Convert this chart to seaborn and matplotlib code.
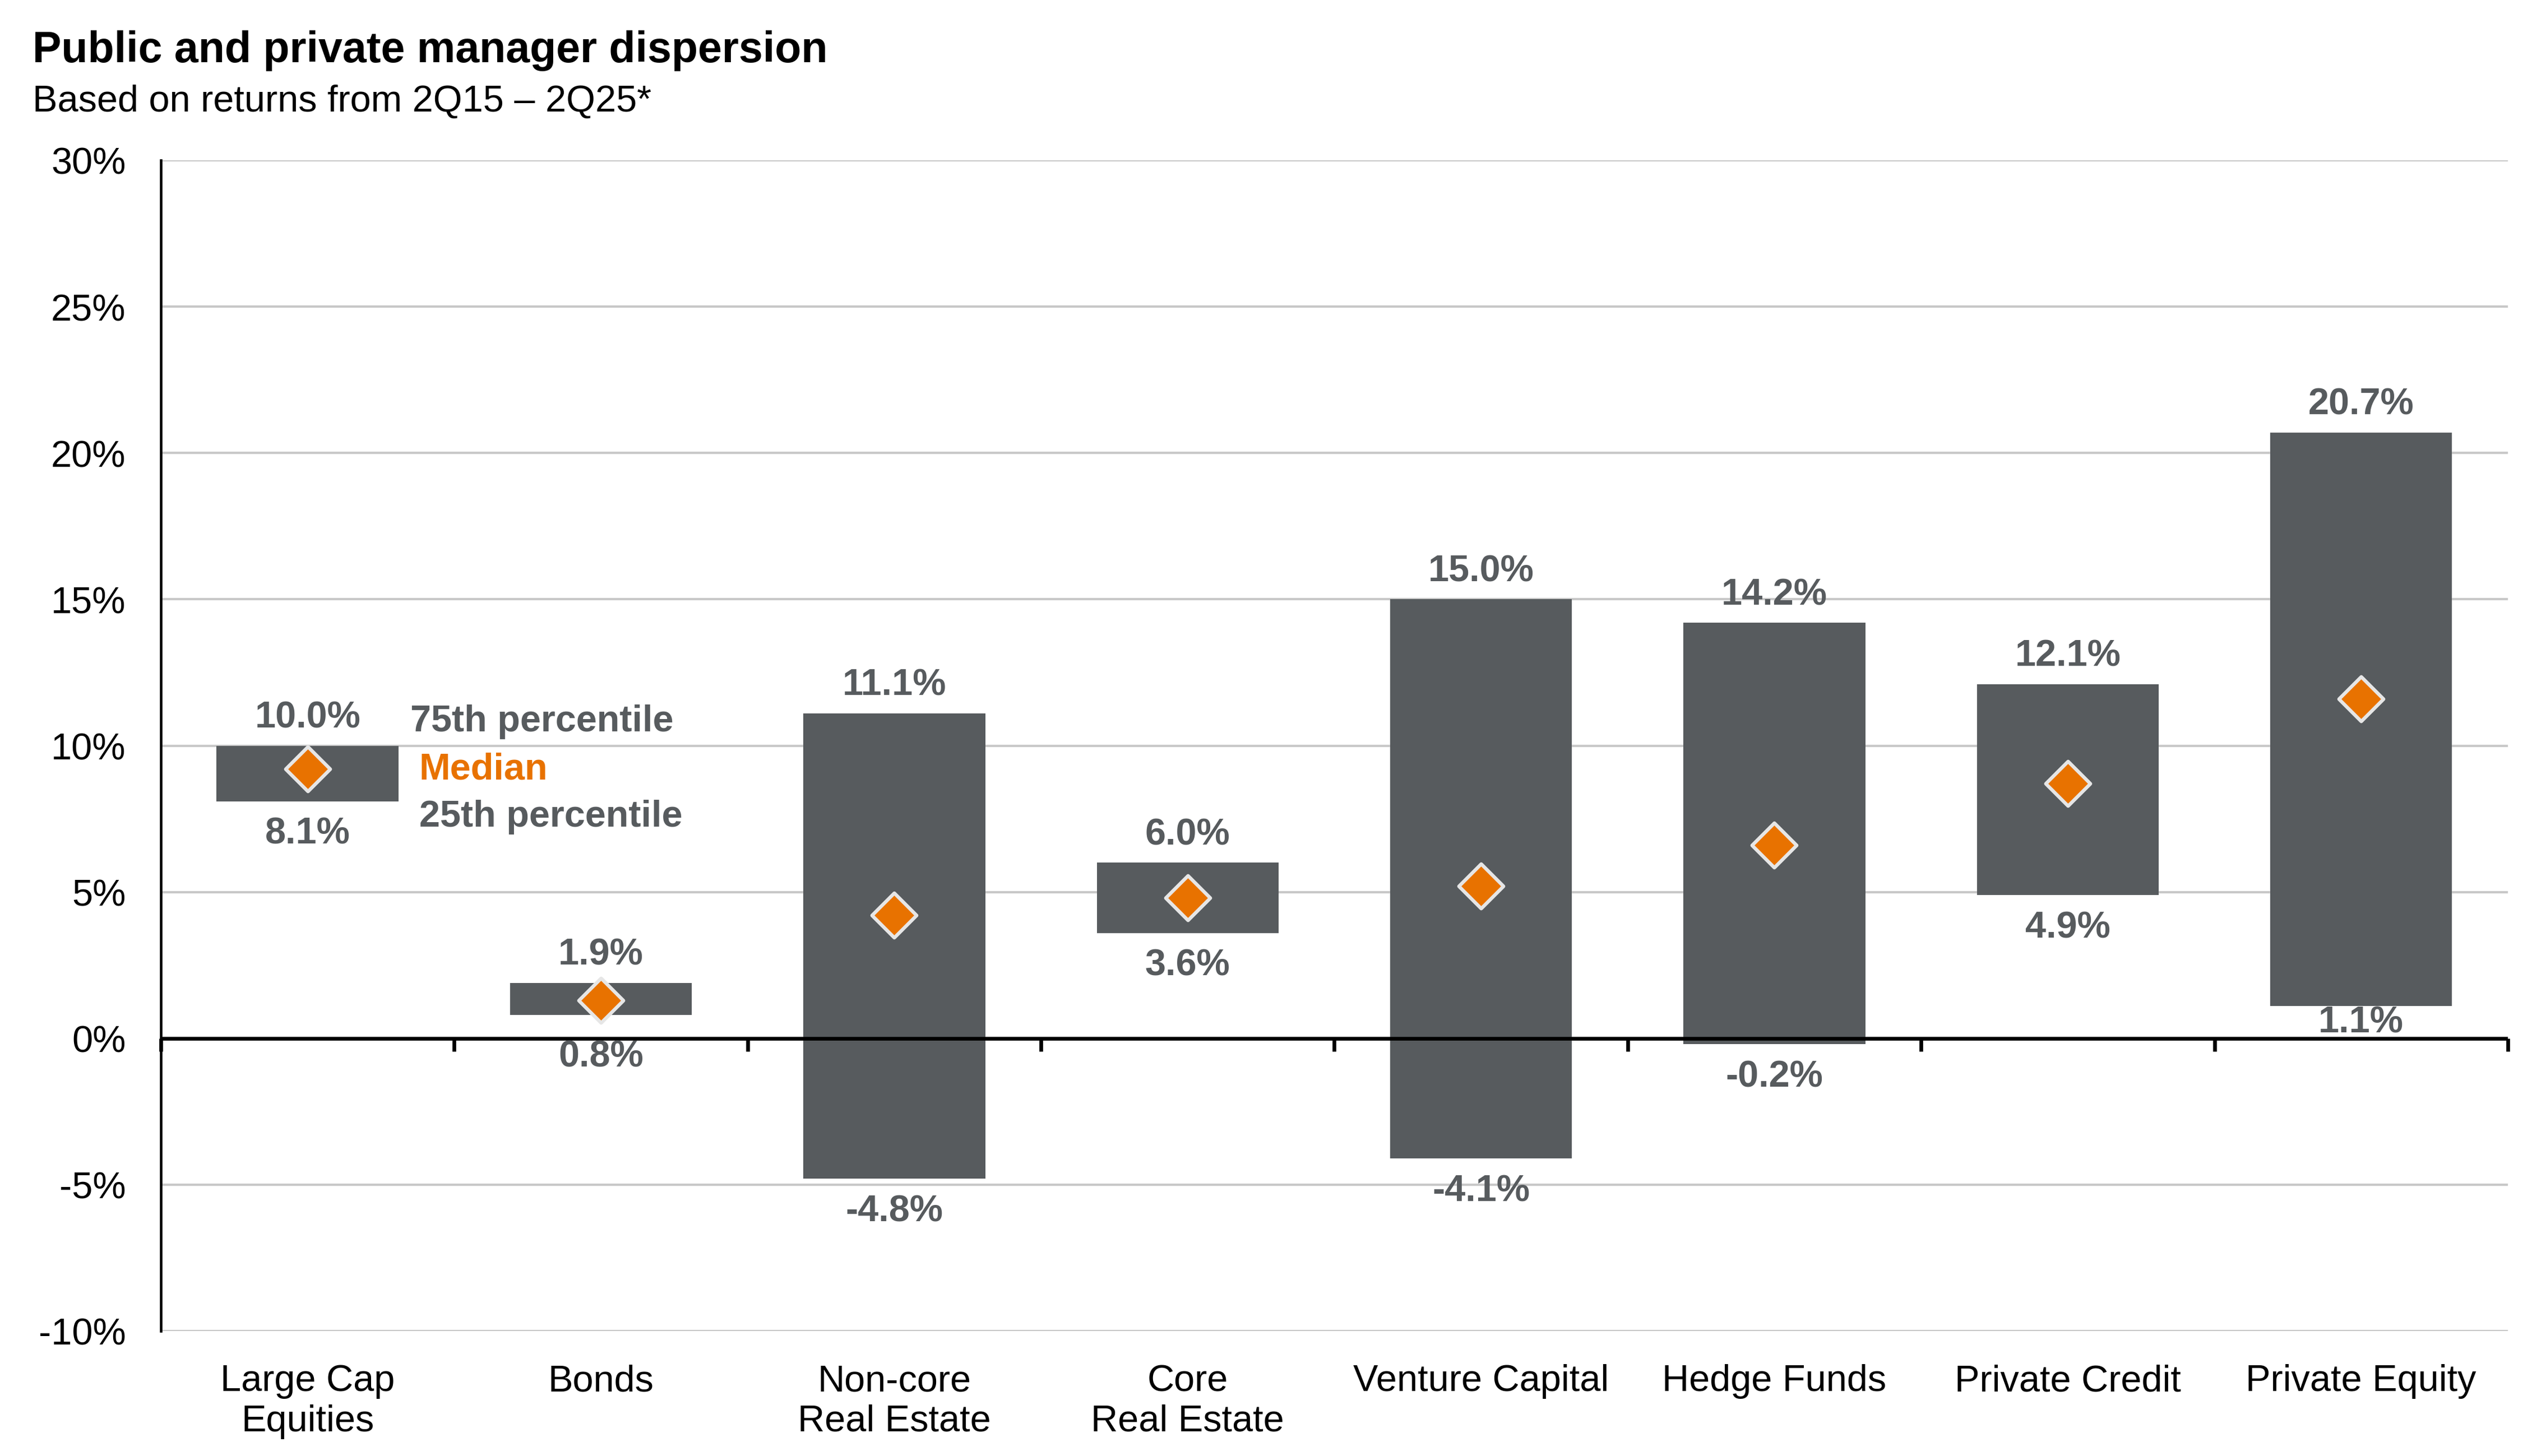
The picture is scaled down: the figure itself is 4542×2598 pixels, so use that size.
import numpy as np
import pandas as pd
import matplotlib
matplotlib.use("Agg")
import matplotlib.pyplot as plt
import seaborn as sns

# data (percent)
categories = ["Large Cap\nEquities", "Bonds", "Non-core\nReal Estate", "Core\nReal Estate",
              "Venture Capital", "Hedge Funds", "Private Credit", "Private Equity"]
p75 = [10.0, 1.9, 11.1, 6.0, 15.0, 14.2, 12.1, 20.7]
p25 = [8.1, 0.8, -4.8, 3.6, -4.1, -0.2, 4.9, 1.1]
median = [9.2, 1.3, 4.2, 4.8, 5.2, 6.6, 8.7, 11.6]
y_ticks = [-10, -5, 0, 5, 10, 15, 20, 25, 30]

BAR = "#575b5e"
ORANGE = "#e87200"
LABEL = "#575b5e"
GRID = "#c8c8c8"

sns.set_theme(style="white")
plt.rcParams["font.family"] = ["Liberation Sans", "DejaVu Sans"]

df = pd.DataFrame({"cat": categories, "p75": p75, "p25": p25, "median": median})
df["spread"] = df["p75"] - df["p25"]

fig = plt.figure(figsize=(15.14, 8.663), dpi=300)
ax = fig.add_axes([0.0632, 0.0858, 0.9218, 0.8038])

# floating bars: 25th to 75th percentile
sns.barplot(data=df, x="cat", y="spread", order=categories, bottom=df["p25"].values,
            color=BAR, saturation=1, width=0.62, errorbar=None, linewidth=0, ax=ax)

# zero line over the bars
ax.axhline(0, color="black", linewidth=1.6, zorder=3)

# median diamonds
sns.stripplot(data=df, x="cat", y="median", order=categories, jitter=False,
              marker="D", size=13.5, color=ORANGE, edgecolor="#e6e6e6",
              linewidth=1.5, zorder=4, ax=ax)

ax.set_xlim(-0.5, len(categories) - 0.5)
ax.set_ylim(-10, 30)
ax.set_yticks(y_ticks)
ax.set_yticklabels([f"{t}%" for t in y_ticks])
ax.set_xlabel("")
ax.set_ylabel("")
ax.set_axisbelow(True)
ax.yaxis.grid(True, color=GRID, linewidth=1.0)
ax.xaxis.grid(False)

for s in ["top", "right", "bottom"]:
    ax.spines[s].set_visible(False)
ax.spines["left"].set_color("black")
ax.spines["left"].set_linewidth(1.1)

ax.tick_params(axis="y", length=0, pad=15, labelsize=16, labelcolor="black")
ax.tick_params(axis="x", length=0, pad=14, labelsize=16, labelcolor="black")

# boundary ticks hanging from the zero line
sec = ax.secondary_xaxis(0.25)
sec.set_xticks(np.arange(len(categories) + 1) - 0.5)
sec.tick_params(axis="x", length=5.5, width=1.6, color="black", labelbottom=False, labeltop=False)
for s in ["top", "bottom"]:
    sec.spines[s].set_visible(False)

# value labels (a couple of low labels are nudged around the zero line, as in the original)
low_offset = [-14] * len(categories)
low_offset[1] = -18
low_offset[-1] = -7
for i, row in df.iterrows():
    ax.annotate(f"{row['p75']:.1f}%", (i, row["p75"]), xytext=(0, 12), textcoords="offset points",
                ha="center", va="center", fontsize=16, fontweight="bold", color=LABEL, zorder=5)
    ax.annotate(f"{row['p25']:.1f}%", (i, row["p25"]), xytext=(0, low_offset[i]),
                textcoords="offset points", ha="center", va="center", fontsize=16,
                fontweight="bold", color=LABEL, zorder=5)

# key next to the first bar
ax.text(0.35, 10.84, "75th percentile", ha="left", va="center", fontsize=16,
        fontweight="bold", color=LABEL)
ax.text(0.38, 9.2, "Median", ha="left", va="center", fontsize=16,
        fontweight="bold", color=ORANGE)
ax.text(0.38, 7.58, "25th percentile", ha="left", va="center", fontsize=16,
        fontweight="bold", color=LABEL)

fig.text(0.0128, 0.965, "Public and private manager dispersion", ha="left", va="center",
         fontsize=18.5, fontweight="bold", color="black")
fig.text(0.0128, 0.93, "Based on returns from 2Q15 \u2013 2Q25*", ha="left", va="center",
         fontsize=16, color="black")

fig.savefig("out.png", dpi=300)
